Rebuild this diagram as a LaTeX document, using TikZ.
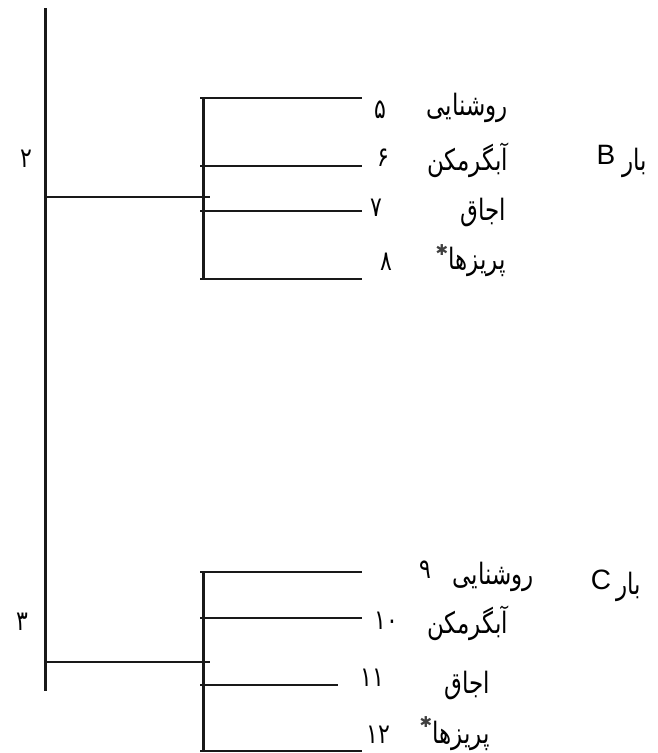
\documentclass[tikz,border=0pt]{standalone}
\usepackage{fontspec}
\usepackage{graphicx}
\setmainfont{Liberation Sans}
\newfontfamily\arabicfont[Script=Arabic]{DejaVu Sans}
\newfontfamily\symfont{DejaVu Sans}
\TeXXeTstate=1
\newcommand{\fatext}[1]{\scalebox{1}[1.28]{\beginR #1\endR}}
\newcommand{\fanum}[1]{\scalebox{1}[1.25]{#1}}
\begin{document}
\begin{tikzpicture}[x=1pt,y=-1pt,
  thickline/.style={line width=3pt,black!90},
  branch/.style={line width=2.2pt,black!90},
  fa/.style={font=\arabicfont\fontsize{23}{26}\selectfont,inner sep=0pt},
  num/.style={font=\arabicfont\fontsize{22}{26}\selectfont,inner sep=0pt},
  lat/.style={font=\fontsize{28}{30}\selectfont,inner sep=0pt},
  star/.style={font=\symfont\fontsize{15}{16}\selectfont,inner sep=0pt,black!75}]
\useasboundingbox (0,0) rectangle (657,753);
% main bus
\coordinate (top) at (45,8);
\coordinate (bot) at (45,691);
\draw[thickline] (top) -- (bot);
% ---- group B ----
\coordinate (bs) at (45,197);
\coordinate (bse) at (210,197);
\draw[branch] (bs) -- (bse);
\coordinate (bt) at (203,98);
\coordinate (bb) at (203,279);
\draw[thickline] (bt) -- (bb);
\coordinate (b1s) at (200,98);  \coordinate (b1e) at (362,98);
\coordinate (b2s) at (200,166); \coordinate (b2e) at (362,166);
\coordinate (b3s) at (200,211); \coordinate (b3e) at (362,211);
\coordinate (b4s) at (200,279); \coordinate (b4e) at (362,279);
\draw[branch] (b1s) -- (b1e);
\draw[branch] (b2s) -- (b2e);
\draw[branch] (b3s) -- (b3e);
\draw[branch] (b4s) -- (b4e);
\node[num] (n2) at (26,159) {\fanum{۲}};
\node[num] (n5) at (380,110) {\fanum{۵}};
\node[num] (n6) at (383,158) {\fanum{۶}};
\node[num] (n7) at (376,208) {\fanum{۷}};
\node[num] (n8) at (386,262) {\fanum{۸}};
\node[fa,anchor=east] (wb1) at (508,108) {\fatext{روشنایی}};
\node[fa,anchor=east] (wb2) at (508,160) {\fatext{آبگرمکن}};
\node[fa,anchor=east] (wb3) at (506,212) {\fatext{اجاق}};
\node[fa,anchor=east] (wb4) at (506,262) {\fatext{پریزها}};
\node[star] (sb) at (442,250) {✱};
\node[lat] (B) at (606,155) {B};
\node[fa,anchor=west] (barB) at (622,163) {\fatext{بار}};
% ---- group C ----
\coordinate (cs) at (45,662);
\coordinate (cse) at (210,662);
\draw[branch] (cs) -- (cse);
\coordinate (ct) at (203,572);
\coordinate (cb) at (203,752);
\draw[thickline] (ct) -- (cb);
\coordinate (c1s) at (200,572); \coordinate (c1e) at (362,572);
\coordinate (c2s) at (200,618); \coordinate (c2e) at (362,618);
\coordinate (c3s) at (200,685); \coordinate (c3e) at (338,685);
\coordinate (c4s) at (200,751); \coordinate (c4e) at (362,751);
\draw[branch] (c1s) -- (c1e);
\draw[branch] (c2s) -- (c2e);
\draw[branch] (c3s) -- (c3e);
\draw[branch] (c4s) -- (c4e);
\node[num] (n3) at (22,622) {\fanum{۳}};
\node[num] (n9) at (425,570) {\fanum{۹}};
\node[num] (n10) at (386,621) {\fanum{۱۰}};
\node[num] (n11) at (372,678) {\fanum{۱۱}};
\node[num] (n12) at (378,735) {\fanum{۱۲}};
\node[fa,anchor=east] (wc1) at (534,577) {\fatext{روشنایی}};
\node[fa,anchor=east] (wc2) at (508,623) {\fatext{آبگرمکن}};
\node[fa,anchor=east] (wc3) at (490,685) {\fatext{اجاق}};
\node[fa,anchor=east] (wc4) at (490,736) {\fatext{پریزها}};
\node[star] (sc) at (426,722) {✱};
\node[lat] (C) at (601,580) {C};
\node[fa,anchor=west] (barC) at (616,587) {\fatext{بار}};
\end{tikzpicture}
\end{document}
